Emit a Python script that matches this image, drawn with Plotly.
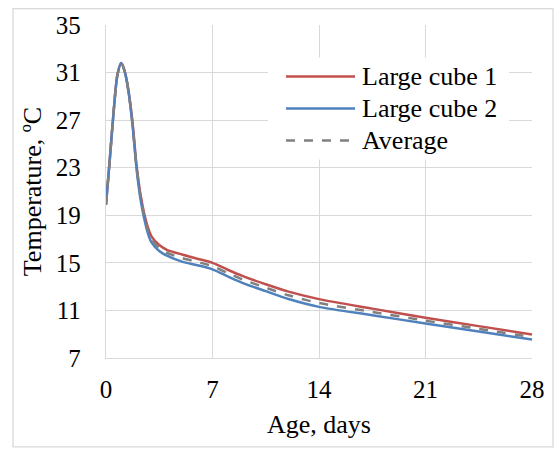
import plotly.graph_objects as go

# ---- data ----
age_days = [0, 0.25, 0.5, 0.75, 1.0, 1.25, 1.5, 1.75, 2.0, 2.25, 2.5, 2.75, 3.0, 3.5, 4.0,
            5.0, 6.0, 7.0, 8.0, 9.0, 10.5, 12.0, 14.0, 17.5, 21.0, 24.5, 28.0]
large_cube_1 = [19.9, 23.7, 27.7, 30.8, 31.8, 31.0, 29.3, 26.7, 23.3, 20.9, 19.2, 18.0, 17.2, 16.5, 16.1,
                15.7, 15.35, 15.0, 14.42, 13.88, 13.2, 12.58, 11.95, 11.15, 10.38, 9.68, 8.97]
large_cube_2 = [19.9, 23.7, 27.7, 30.8, 31.8, 31.0, 29.2, 26.5, 23.0, 20.5, 18.8, 17.5, 16.7, 16.0, 15.6,
                15.1, 14.8, 14.45, 13.86, 13.3, 12.62, 11.96, 11.3, 10.6, 9.9, 9.22, 8.55]
average = [(a + b) / 2 for a, b in zip(large_cube_1, large_cube_2)]

series_names = ["Large cube 1", "Large cube 2", "Average"]
x_ticks = [0, 7, 14, 21, 28]
y_ticks = [7, 11, 15, 19, 23, 27, 31, 35]

RED = "#C0504D"
BLUE = "#4F81BD"
GREY = "#808080"
GRID = "#D9D9D9"
FONT = "Liberation Serif, Times New Roman, serif"
TICK_SIZE = 25
TEXT_SIZE = 26

# plot-area pixel box
L, R, T, B = 106, 532, 21, 358
W, H = R - L, B - T


def px(x):
    return (x - L) / W


def py(y):
    return (B - y) / H


fig = go.Figure()
fig.add_trace(go.Scatter(x=age_days, y=large_cube_1, mode="lines", name=series_names[0],
                         line=dict(color=RED, width=2.5, shape="spline", smoothing=0.8)))
fig.add_trace(go.Scatter(x=age_days, y=large_cube_2, mode="lines", name=series_names[1],
                         line=dict(color=BLUE, width=2.5, shape="spline", smoothing=0.8)))
fig.add_trace(go.Scatter(x=age_days, y=average, mode="lines", name=series_names[2],
                         line=dict(color=GREY, width=2.5, dash="dash", shape="spline", smoothing=0.8)))

shapes = []
annotations = []
# outer chart border
shapes.append(dict(type="rect", xref="paper", yref="paper",
                   x0=px(13), x1=px(553), y0=py(448), y1=py(4.5),
                   line=dict(color=GRID, width=1.3), fillcolor="rgba(0,0,0,0)", layer="below"))
# legend box
shapes.append(dict(type="rect", xref="paper", yref="paper",
                   x0=px(268), x1=px(509), y0=py(157), y1=py(54),
                   line=dict(width=0), fillcolor="white", layer="above"))
legend_rows = [73, 105.5, 138]
legend_styles = [(RED, "solid"), (BLUE, "solid"), (GREY, "dash")]
for name, yy, (col, dash) in zip(series_names, legend_rows, legend_styles):
    shapes.append(dict(type="line", xref="paper", yref="paper",
                       x0=px(286), x1=px(355), y0=py(yy), y1=py(yy),
                       line=dict(color=col, width=2.5, dash=dash), layer="above"))
    annotations.append(dict(text=name, xref="paper", yref="paper", x=px(360), y=py(yy),
                            xanchor="left", yanchor="middle", showarrow=False,
                            font=dict(family=FONT, size=TEXT_SIZE, color="black")))
# clipped caption fragment at the very top (only its descenders show)
annotations.append(dict(text="graph", xref="paper", yref="paper", x=px(10), y=py(-1.5),
                        xanchor="left", yanchor="bottom", showarrow=False,
                        font=dict(family=FONT, size=TEXT_SIZE, color="black")))

fig.update_layout(
    width=560, height=451,
    margin=dict(l=L, r=560 - R, t=T, b=451 - B),
    paper_bgcolor="white", plot_bgcolor="white",
    showlegend=False,
    font=dict(family=FONT, size=TICK_SIZE, color="black"),
    shapes=shapes, annotations=annotations,
)
fig.update_xaxes(range=[0, 28], tickvals=x_ticks, ticks="", showgrid=True, gridcolor=GRID, gridwidth=1.3,
                 showline=True, linecolor=GRID, linewidth=1.3, mirror=False, zeroline=False,
                 ticklabelstandoff=9, tickfont=dict(size=TICK_SIZE),
                 title=dict(text="Age, days", font=dict(size=TEXT_SIZE), standoff=12))
fig.update_yaxes(range=[7, 35], tickvals=y_ticks, ticks="", showgrid=True, gridcolor=GRID, gridwidth=1.3,
                 showline=True, linecolor=GRID, linewidth=1.3, zeroline=False,
                 ticklabelstandoff=19, tickfont=dict(size=TICK_SIZE),
                 title=dict(text="Temperature, ºC", font=dict(size=TEXT_SIZE), standoff=6))

fig.write_html("out.html")
